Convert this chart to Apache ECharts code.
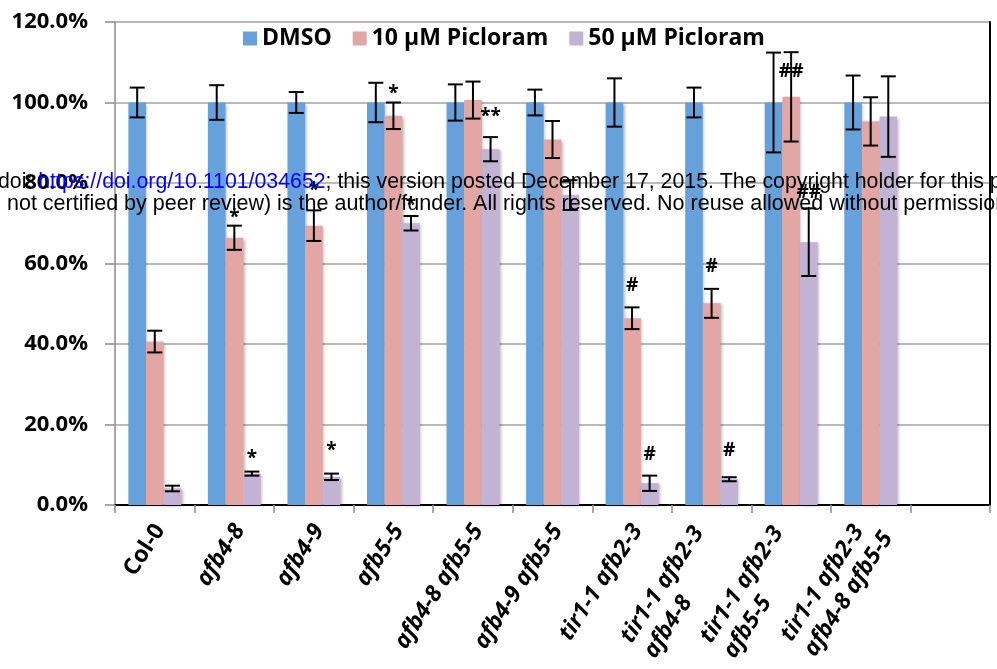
<!DOCTYPE html>
<html>
<head>
<meta charset="utf-8">
<script src="https://cdn.jsdelivr.net/npm/echarts@6/dist/echarts.min.js"></script>
<style>
html,body{margin:0;padding:0;background:#fff;}
#chart{width:997px;height:669px;}
</style>
</head>
<body>
<div id="chart"></div>
<script>
const categories = ['Col-0','afb4-8','afb4-9','afb5-5','afb4-8 afb5-5','afb4-9 afb5-5','tir1-1 afb2-3','tir1-1 afb2-3\nafb4-8','tir1-1 afb2-3\nafb5-5','tir1-1 afb2-3\nafb4-8 afb5-5',''];
const seriesNames = ['DMSO','10 µM Picloram','50 µM Picloram'];
const dmso = [100,100,100,100,100,100,100,100,100,100];
const dmsoErr = [3.7,4.3,2.6,4.9,4.5,3.2,6.0,3.7,12.4,6.7];
const pic10 = [40.6,66.4,69.4,96.7,100.6,90.8,46.4,50.1,101.4,95.3];
const pic10Err = [2.7,3.0,3.8,3.3,4.6,4.6,2.7,3.6,11.1,6.0];
const pic50 = [4.1,7.8,7.0,70.0,88.4,77.0,5.4,6.4,65.3,96.5];
const pic50Err = [0.7,0.5,0.8,1.8,3.0,3.7,1.9,0.5,8.4,10.0];
const yTicks = [0,20,40,60,80,100,120];
// [category index, series index, mark, value at mark]
const annotations = [
  [1,1,'*',72.5],[1,2,'*',12.4],[2,1,'*',79.2],[2,2,'*',14.4],
  [3,1,'*',103.1],[3,2,'*',75.3],[4,2,'**',97.4],
  [6,1,'#',54.6],[6,2,'#',12.4],[7,1,'#',59.2],[7,2,'#',13.5],
  [8,1,'##',107.6],[8,2,'##',77.7]
];

const colors = ['#66A1DC','#E2A7A5','#C2B3D5'];
const BW = 17.6;
const FONT = '"Open Sans", "DejaVu Sans", sans-serif';
const allVals = [dmso, pic10, pic50];
const allErrs = [dmsoErr, pic10Err, pic50Err];

const errData = [];
allVals.forEach((arr, s) => arr.forEach((v, i) => errData.push([i, v, allErrs[s][i], s])));

const chart = echarts.init(document.getElementById('chart'), null, {renderer:'canvas'});

const barShadow = {shadowColor:'rgba(0,0,0,0.28)', shadowBlur:3, shadowOffsetX:1.5, shadowOffsetY:1};
const LBL = 23;

const option = {
  animation: false,
  backgroundColor: '#fff',
  grid: {left:115, right:7, top:22, bottom:164, containLabel:false},
  legend: {
    data: seriesNames,
    left: 238, top: 22,
    icon: 'rect', itemWidth: 14, itemHeight: 14, itemGap: 21,
    textStyle: {fontFamily: FONT, fontWeight:'bold', fontSize:23, color:'#000'}
  },
  xAxis: [{
    type: 'category', data: categories, position:'bottom',
    axisLine: {show:true, lineStyle:{color:'#8c8c8c', width:1.5}},
    axisTick: {show:true, length:8, lineStyle:{color:'#8c8c8c', width:1.5}},
    axisLabel: {
      interval: 0, rotate: 57, margin: 24, color:'#000',
      padding: [6, -5, 0, 0],
      formatter: function(v){
        if (v === '') return '';
        if (v === 'Col-0') return '{n|Col-0}';
        const p = v.split('\n');
        if (p.length === 1) return '{i|' + v + '}';
        const pad = p[1].length < p[0].length ? '  ' : '';
        return '{l|' + p[0] + pad + '}\n{l|' + p[1] + '}';
      },
      rich: {
        n: {fontFamily:FONT, fontWeight:'bold', fontStyle:'normal', fontSize:LBL, lineHeight:28, color:'#000'},
        i: {fontFamily:FONT, fontWeight:'bold', fontStyle:'italic', fontSize:LBL, lineHeight:28, color:'#000'},
        l: {fontFamily:FONT, fontWeight:'bold', fontStyle:'italic', fontSize:LBL, lineHeight:28, color:'#000', align:'left'}
      }
    },
    splitLine: {show:false}
  },{
    type: 'category', data: categories, position:'top',
    axisLine: {show:true, lineStyle:{color:'#000', width:2}},
    axisTick: {show:false}, axisLabel:{show:false}, splitLine:{show:false}
  }],
  yAxis: [{
    type:'value', min:0, max:120, interval:20,
    axisLine:{show:true, lineStyle:{color:'#8c8c8c', width:1.5}},
    axisTick:{show:true, length:10, lineStyle:{color:'#8c8c8c', width:1.5}},
    splitLine:{show:true, lineStyle:{color:'#a3a3a3', width:1.5}},
    axisLabel:{
      margin: 27, color:'#000', fontFamily:FONT, fontWeight:'bold', fontSize:22,
      formatter: v => yTicks.indexOf(v) >= 0 ? v.toFixed(1) + '%' : ''
    }
  },{
    type:'value', min:0, max:120, interval:20, position:'right',
    axisLine:{show:true, lineStyle:{color:'#000', width:2}},
    axisTick:{show:false}, axisLabel:{show:false}, splitLine:{show:false}
  }],
  series: [
    {name: seriesNames[0], type:'bar', data: dmso, barWidth: BW, barGap:'0%', itemStyle:Object.assign({color:colors[0]}, barShadow), z:2},
    {name: seriesNames[1], type:'bar', data: pic10, barWidth: BW, barGap:'0%', itemStyle:Object.assign({color:colors[1]}, barShadow), z:2},
    {name: seriesNames[2], type:'bar', data: pic50, barWidth: BW, barGap:'0%', itemStyle:Object.assign({color:colors[2]}, barShadow), z:2},
    {
      type:'custom', data: errData, z: 5,
      renderItem: function(params, api){
        const c = api.value(0), v = api.value(1), e = api.value(2), s = api.value(3);
        const off = (s - 1) * BW;
        const top = api.coord([c, v + e]);
        const bot = api.coord([c, v - e]);
        const x = top[0] + off;
        const hw = 7.5;
        const st = {stroke:'#000', lineWidth:2};
        return {type:'group', children:[
          {type:'line', shape:{x1:x, y1:top[1], x2:x, y2:bot[1]}, style:st},
          {type:'line', shape:{x1:x-hw, y1:top[1], x2:x+hw, y2:top[1]}, style:st},
          {type:'line', shape:{x1:x-hw, y1:bot[1], x2:x+hw, y2:bot[1]}, style:st}
        ]};
      }
    },
    {
      type:'custom', data: annotations, z: 6,
      renderItem: function(params, api){
        const c = api.value(0), s = api.value(1), v = api.value(3);
        const txt = annotations[params.dataIndex][2];
        const p = api.coord([c, v]);
        const isStar = txt.indexOf('*') >= 0;
        return {type:'text', x: p[0] + (s - 1) * BW, y: p[1] + (isStar ? 4 : 0),
          style:{text: txt, fill:'#000', font: 'bold 19px ' + FONT, align:'center', verticalAlign:'middle'}};
      }
    }
  ],
  graphic: [
    {type:'text', left:-2, top:172, z:100, silent:true,
      style:{
        text:'{a|doi: }{b|https://doi.org/10.1101/034652}{a|; this version posted December 17, 2015. The copyright holder for this preprint (which was}',
        rich:{
          a:{fontFamily:'"Liberation Sans", Arial, sans-serif', fontSize:21.3, fill:'#000'},
          b:{fontFamily:'"Liberation Sans", Arial, sans-serif', fontSize:21.3, fill:'#0000ff'}
        }
      }},
    {type:'text', left:7, top:193, z:100, silent:true,
      style:{text:'not certified by peer review) is the author/funder. All rights reserved. No reuse allowed without permission.',
        font:'21.5px "Liberation Sans", Arial, sans-serif', fill:'#000'}}
  ]
};
chart.setOption(option);
</script>
</body>
</html>
